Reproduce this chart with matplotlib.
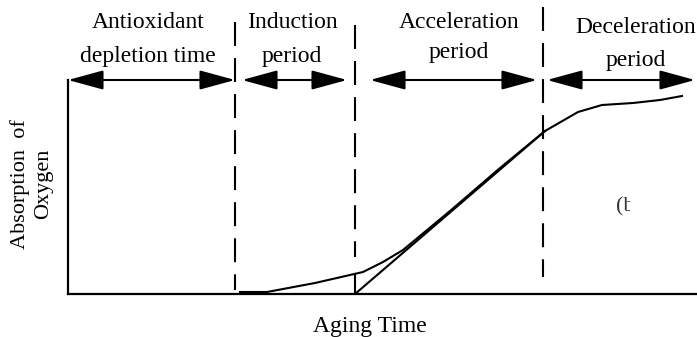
import matplotlib.pyplot as plt
from matplotlib.patches import FancyArrowPatch, ArrowStyle, Rectangle

plt.rcParams['font.family'] = ['Liberation Serif', 'DejaVu Serif']

# oxygen uptake curve (aging time, absorbed oxygen), arbitrary units
aging_time = [172, 199, 247, 295, 315, 335, 382, 432, 477, 510, 534, 565, 592, 614]
oxygen_abs = [2, 2, 11, 22, 32, 44, 83, 126, 163, 182, 189, 191, 194, 198]

# tangent to the acceleration part, meets the time axis at the induction end
tangent_x = [287, 477]
tangent_y = [0, 163]
induction_end_y = 20

# boundaries between the stages
boundaries = [167, 287, 475]
boundary_top = [272, 269, 287]
boundary_bottom = [4, 37, 17]

# stage spans and their labels
spans = [(0, 167), (174, 279), (302, 469), (479, 627)]
stage_line1 = ["Antioxidant", "Induction", "Acceleration", "Deceleration"]
stage_line2 = ["depletion time", "period", "period", "period"]
label_x = [80, 224, 391, 568]
base1 = [266, 266, 266, 261]
base2 = [232, 232, 236, 228]

fig = plt.figure(figsize=(6.97, 3.37), dpi=100)
ax = fig.add_axes([68 / 697, 43 / 337, 629 / 697, 214 / 337])
ax.set_xlim(0, 629)
ax.set_ylim(0, 214)
for s in ['top', 'right']:
    ax.spines[s].set_visible(False)
for s in ['left', 'bottom']:
    ax.spines[s].set_linewidth(1.6)
ax.set_xticks([])
ax.set_yticks([])

# dashed stage boundaries
for bx, top, bot in zip(boundaries, boundary_top, boundary_bottom):
    ax.plot([bx, bx], [top, bot], color='black', lw=1.5,
            ls=(0, (11.5, 5.8)), clip_on=False)

# curve, tangent and the short drop at the end of induction
ax.plot(aging_time, oxygen_abs, color='black', lw=1.5)
ax.plot(tangent_x, tangent_y, color='black', lw=1.5)
ax.plot([tangent_x[0], tangent_x[0]], [0, induction_end_y], color='black', lw=1.5)

# double-headed arrows over each stage
style = ArrowStyle('<|-|>', head_length=22, head_width=6)
for (a, b) in spans:
    arr = FancyArrowPatch((a, 214), (b, 214), arrowstyle=style, mutation_scale=1,
                          lw=1.5, color='black', shrinkA=0, shrinkB=0, clip_on=False)
    ax.add_patch(arr)

for x, t1, t2, y1, y2 in zip(label_x, stage_line1, stage_line2, base1, base2):
    ax.text(x, y1, t1, fontsize=17, ha='center', va='baseline', clip_on=False)
    ax.text(x, y2, t2, fontsize=17, ha='center', va='baseline', clip_on=False)

ax.text(302, -38, "Aging Time", fontsize=17, ha='center', va='baseline', clip_on=False)
ax.text(-48, 110, "Absorption  of", fontsize=16, rotation=90, ha='center', va='center',
        clip_on=False)
ax.text(-24, 110, "Oxygen", fontsize=16, rotation=90, ha='center', va='center',
        clip_on=False)

# panel tag, cut off on the right
tag = ax.text(548, 87, "(b)", fontsize=16, ha='left', va='center', color='#333333',
              clip_on=True)
tag.set_clip_path(Rectangle((500, 50), 62, 80, transform=ax.transData))

fig.savefig("out.png", dpi=100)
